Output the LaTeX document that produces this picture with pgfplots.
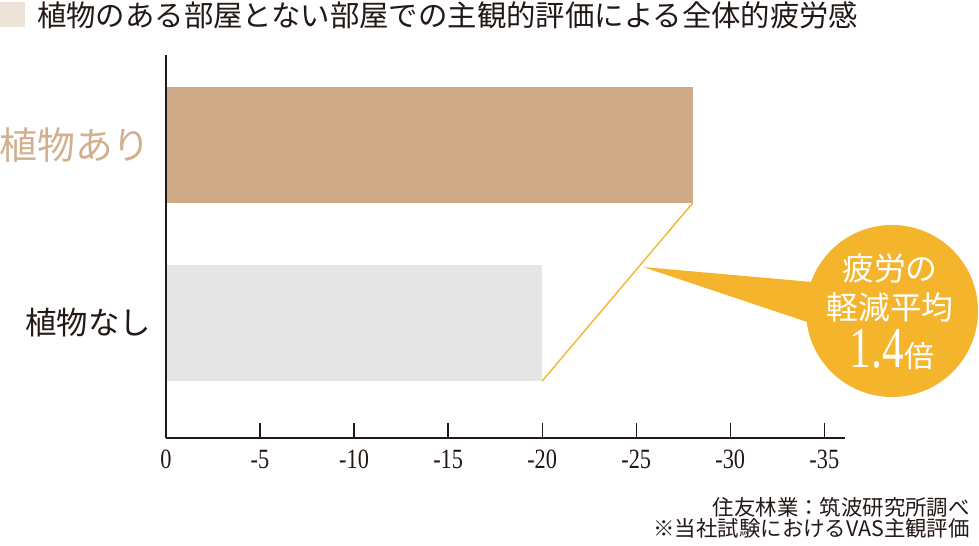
\documentclass[border=0pt]{standalone}
\usepackage{pgfplots}
\pgfplotsset{compat=1.18}
\usepackage{fontspec}
\setmainfont{Noto Sans CJK JP}
\newfontfamily\numfont[FakeStretch=0.8]{Liberation Serif}
\newfontfamily\bignum[FakeStretch=0.75]{Liberation Serif}

\definecolor{ink}{HTML}{231815}
\definecolor{tanbar}{HTML}{CEAA89}
\definecolor{tanlab}{HTML}{D2AF8E}
\definecolor{graybar}{HTML}{E5E5E5}
\definecolor{accent}{HTML}{F4B52D}
\definecolor{boxc}{HTML}{EEE3D8}

\begin{document}
\begin{tikzpicture}
\begin{axis}[
    at={(0,0)}, anchor=south west,
    scale only axis, width=679bp, height=383bp,
    x dir=reverse,
    xmin=-36.1, xmax=0,
    ymin=-0.646, ymax=1.506,
    axis x line=bottom, axis y line=left,
    axis line style={-, line width=1.6bp, draw=ink},
    y axis line style={draw=none},
    xtick={0,-5,-10,-15,-20,-25,-30,-35},
    xticklabels={0,-5,-10,-15,-20,-25,-30,-35},
    tick align=inside, major tick length=15bp,
    x tick style={line width=1.3bp, draw=ink},
    xticklabel style={font=\numfont\fontsize{28}{28}\selectfont, text=ink, inner sep=0pt, yshift=-12bp},
    ytick={0,1},
    yticklabels={{\fontsize{31.5}{31.5}\selectfont\color{ink}植物なし}, {\fontsize{38}{38}\selectfont\color{tanlab}植物あり}},
    y tick style={draw=none},
    yticklabel style={inner sep=0pt, xshift=-15bp},
    clip=false,
]
\addplot[xbar, bar shift=0pt, bar width=0.652, fill=tanbar, draw=none] coordinates {(-28,1)};
\addplot[xbar, bar shift=0pt, bar width=0.652, fill=graybar, draw=none] coordinates {(-20,0)};
\draw[line width=1.6bp, ink] (axis cs:0,-0.646) -- (axis cs:0,1.506);
\draw[line width=1.4bp, accent] (axis cs:-28,0.674) -- (axis cs:-20,-0.326);
\end{axis}
% callout
\fill[accent] (477bp,171bp) -- (680bp,153bp) -- (680bp,103bp) -- cycle;
\fill[accent] (726bp,127bp) circle (86bp);
\node[text=white, font=\fontsize{32}{32}\selectfont, inner sep=0pt] at (724bp,170bp) {疲労の};
\node[text=white, font=\fontsize{32}{32}\selectfont, inner sep=0pt] at (724bp,131bp) {軽減平均};
\node[text=white, inner sep=0pt] at (726bp,88bp) {{\bignum\fontsize{58}{58}\selectfont 1.4}{\fontsize{30}{30}\selectfont 倍}};
% title
\fill[boxc] (-166bp,411bp) rectangle (-141bp,436bp);
\node[anchor=west, text=ink, inner sep=0pt, font=\fontsize{29.5}{29.5}\selectfont] at (-129bp,423bp) {植物のある部屋とない部屋での主観的評価による全体的疲労感};
% source
\node[anchor=east, text=ink, inner sep=0pt, font=\fontsize{21.5}{21.5}\selectfont] at (804bp,-69bp) {住友林業：筑波研究所調べ};
\node[anchor=east, text=ink, inner sep=0pt, font=\fontsize{21.5}{21.5}\selectfont] at (804bp,-90bp) {※当社試験におけるVAS主観評価};
\pgfresetboundingbox
\path[use as bounding box] (-166bp,-108bp) rectangle (813bp,438bp);
\end{tikzpicture}
\end{document}
